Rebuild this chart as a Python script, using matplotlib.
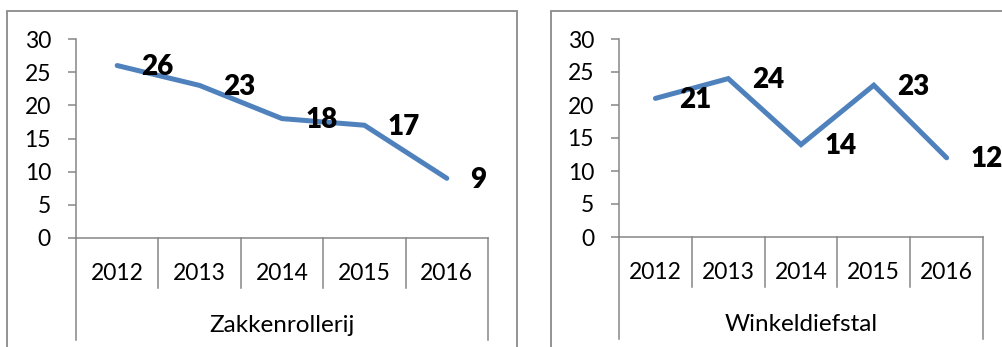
import matplotlib
matplotlib.use("Agg")
import matplotlib.pyplot as plt
from matplotlib.patches import Rectangle
from matplotlib.transforms import blended_transform_factory

plt.rcParams['font.family'] = ['Lato', 'DejaVu Sans']

years = ["2012", "2013", "2014", "2015", "2016"]
zakkenrollerij = [26, 23, 18, 17, 9]
winkeldiefstal = [21, 24, 14, 23, 12]
titles = ["Zakkenrollerij", "Winkeldiefstal"]

W, H = 1002, 347
fig = plt.figure(figsize=(W / 100, H / 100), dpi=100)

LINE_BLUE = "#4F81BD"
AXIS_GRAY = "#868686"
BOX_GRAY = "#8a8a8a"


def px_axes(x0, x1, y_top, y_bottom):
    return fig.add_axes([x0 / W, (H - y_bottom) / H, (x1 - x0) / W, (y_bottom - y_top) / H])


def draw_panel(ax, values, name):
    n = len(years)
    x = list(range(n))
    ax.plot(x, values, color=LINE_BLUE, lw=3.6, solid_capstyle="round",
            solid_joinstyle="miter", clip_on=False, zorder=3)
    for xi, v in zip(x, values):
        ax.annotate(str(v), (xi, v), xytext=(17, -1), textcoords="offset points",
                    ha="left", va="center", fontsize=20, fontweight="heavy",
                    color="black", zorder=4, annotation_clip=False)

    ax.set_xlim(-0.5, n - 0.5)
    ax.set_ylim(0, 30)
    ax.set_yticks(range(0, 31, 5))
    ax.set_xticks([])
    ax.tick_params(axis="y", direction="out", length=6, width=1.1,
                   color=AXIS_GRAY, pad=12, labelsize=16.5, labelcolor="black")
    for side in ("top", "right"):
        ax.spines[side].set_visible(False)
    for side in ("left", "bottom"):
        ax.spines[side].set_color(AXIS_GRAY)
        ax.spines[side].set_linewidth(1.1)
    ax.patch.set_alpha(0)

    # category dividers below the axis, outer ones reach the bottom edge
    trans = blended_transform_factory(ax.transData, ax.transAxes)
    ax_h = ax.get_position().height * H
    short = -50 / ax_h
    long_ = -102 / ax_h
    for b in range(n + 1):
        xb = b - 0.5
        yend = long_ if b in (0, n) else short
        ax.plot([xb, xb], [0, yend], transform=trans, color=AXIS_GRAY,
                lw=1.1, clip_on=False)
    for xi, yr in zip(x, years):
        ax.text(xi, -42 / ax_h, yr, transform=trans, ha="center", va="baseline",
                fontsize=16.5, color="black")
    ax.text((n - 1) / 2, -94 / ax_h, name, transform=trans, ha="center",
            va="baseline", fontsize=17.5, color="black")


# chart frames
fig.patches.append(Rectangle((7 / W, -0.1), (517 - 7) / W, (H - 11) / H + 0.1,
                             transform=fig.transFigure, fill=False,
                             edgecolor=BOX_GRAY, lw=1.3))
fig.patches.append(Rectangle((551 / W, -0.1), 0.5, (H - 11) / H + 0.1,
                             transform=fig.transFigure, fill=False,
                             edgecolor=BOX_GRAY, lw=1.3))

ax1 = px_axes(76, 488, 39, 238)
draw_panel(ax1, zakkenrollerij, titles[0])
ax2 = px_axes(619, 983, 39, 237)
draw_panel(ax2, winkeldiefstal, titles[1])

fig.savefig("out.png", dpi=100)
